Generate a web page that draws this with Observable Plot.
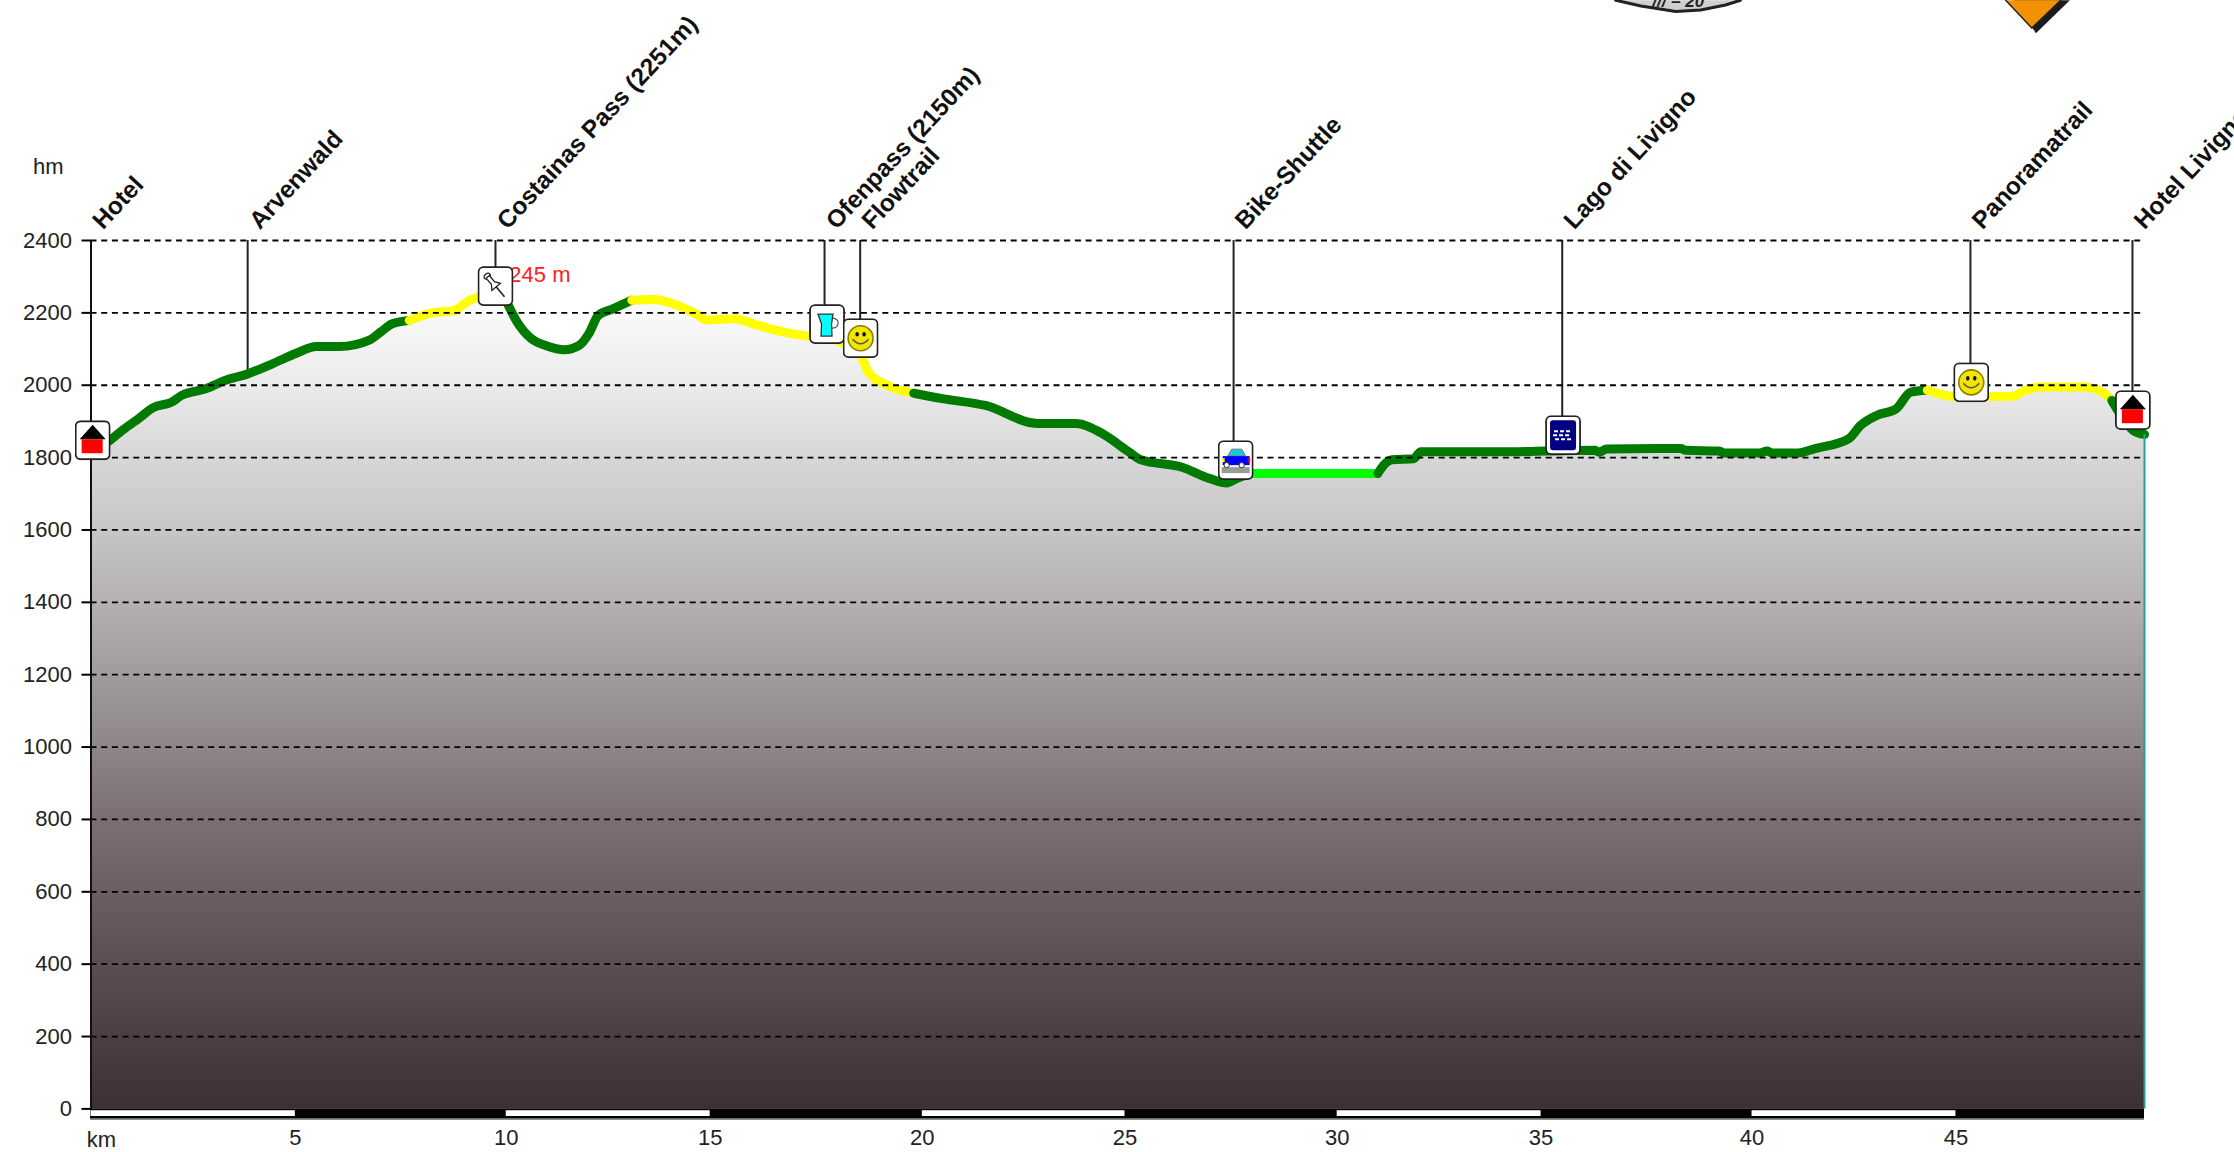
<!DOCTYPE html>
<html><head><meta charset="utf-8">
<script src="https://cdn.jsdelivr.net/npm/d3@7"></script>
<script src="https://cdn.jsdelivr.net/npm/@observablehq/plot@0.6"></script>
<style>
html,body{margin:0;padding:0;background:#fff;overflow:hidden}
svg{display:block}
</style></head><body><div id="chart"></div>
<script>
const profileKm = [0,.46,.75,1.15,1.5,1.96,2.19,2.77,3.23,3.75,4.39,4.97,5.43,6,6.7,6.99,7.27,7.68,8.2,8.78,9.06,9.35,9.76,10.07,10.28,10.62,10.97,11.43,11.78,12.01,12.24,12.59,13.05,13.58,14.07,14.55,14.87,15.51,16.08,16.72,17.36,17.69,18.17,18.61,18.75,19.21,19.85,20.54,21.58,22.85,23.77,24.41,25.04,25.33,26.31,27,27.41,27.64,27.99,31.05,31.1,31.39,31.91,32.09,34.03,35.13,36.29,36.4,36.57,38.36,38.48,39.29,39.4,40.27,40.44,40.56,41.19,41.6,42.41,42.7,43.1,43.56,43.91,44.31,44.95,46.33,46.68,47.03,48.06,48.53,48.76,48.93,49.28,49.55];
const profileElev = [1820,1848,1875,1908,1938,1954,1972,1990,2013,2030,2060,2089,2107,2107,2124,2147,2170,2179,2199,2207,2230,2244,2251,2221,2175,2129,2110,2098,2110,2142,2193,2211,2235,2237,2224,2200,2180,2184,2166,2147,2135,2132,2115,2074,2037,2000,1978,1963,1944,1894,1894,1866,1816,1794,1774,1742,1730,1742,1756,1756,1765,1794,1797,1816,1816,1818,1820,1815,1824,1825,1820,1818,1813,1813,1818,1813,1813,1825,1852,1889,1917,1935,1981,1986,1969,1969,1986,1995,1995,1981,1958,1926,1875,1864];
const segmentStops = [0,7.68,10.07,13.05,19.85,27.99,31.05,44.31,48.76,49.55];
const segmentColors = ["#007a00","#ffff00","#007a00","#ffff00","#007a00","#00ff00","#007a00","#ffff00","#007a00"];

const waypointNames = ["Hotel","Arvenwald","Costainas Pass (2251m)","Ofenpass (2150m)","Flowtrail","Bike-Shuttle","Lago di Livigno","Panoramatrail","Hotel Livigno"];
const waypointKm = [0,3.78,9.76,17.7,18.56,27.57,35.5,45.35,49.26];
const waypointFoot = [1848,2040,2274,2169,2130,1793,1862,2008,1931];

const iconNames = ["hotel","pin","beer","smile","car","water","smile","hotel"];
const iconKm = [.04,9.76,17.76,18.57,27.62,35.52,45.37,49.27];
const iconElev = [1848,2274,2169,2130,1793,1862,2008,1931];

const elevTicks = [0,200,400,600,800,1000,1200,1400,1600,1800,2000,2200,2400];
const kmTicks = [4.93,10.02,14.94,20.06,24.95,30.07,34.99,40.08,45];
const kmTickLabels = ["5","10","15","20","25","30","35","40","45"];
const scaleWhite = [[0,4.93],[10.02,14.94],[20.06,24.95],[30.07,34.99],[40.08,45]];
const totalKm = 49.55;

const gradElev = [2400,2200,2000,1800,1600,1200,800,400,0];
const gradColor = ["#ffffff","#f9f9f9","#ebebeb","#d8d7d7","#c7c5c5","#a19c9c","#7b6f71","#5a4e50","#3d3034"];

const badgeKm = [36.79,37.4,38.24,38.84,39.44,39.8];
const badgeElev = [3064,3048,3033,3037,3051,3064];
const signKm = [46.2,46.83,47.53];
const signElev = [3064,2987,3064];
const signShadowKm = [46.4,46.93,47.75];
const signShadowElev = [3064,2973,3064];

const frame = inner => "data:image/svg+xml," + encodeURIComponent(
 `<svg xmlns="http://www.w3.org/2000/svg" width="36" height="40" viewBox="0 0 36 40"><rect x="1" y="1" width="34" height="38" rx="5" fill="#fff" stroke="#222" stroke-width="1.8"/>${inner}</svg>`);
const iconArt = {
 hotel: frame(`<path d="M5 19 L18 4.5 L31 19Z" fill="#000"/><rect x="7" y="19" width="21" height="14" fill="#f00"/>`),
 pin: frame(`<g transform="rotate(-40 18 20)" fill="#fff" stroke="#222" stroke-width="1.3"><ellipse cx="18" cy="7" rx="3.4" ry="2.4"/><path d="M15.8 8 L16 16 L12.5 21 H23.5 L20 16 L20.2 8Z"/><path d="M18 21 V34" stroke-width="1.6"/></g>`),
 beer: frame(`<path d="M24 14 q6 1 5 6 q-1 4 -6 4" fill="none" stroke="#555" stroke-width="1.2"/><path d="M9 10 H24 L22.5 20 L23 32 H12 L12.5 20Z" fill="#00ffff" stroke="#333" stroke-width="1.3"/>`),
 smile: frame(`<circle cx="18" cy="20" r="12.5" fill="#f2e600" stroke="#8a8000" stroke-width="1.6"/><ellipse cx="14.5" cy="16" rx="1.7" ry="2.3" fill="#111"/><ellipse cx="21.5" cy="16" rx="1.7" ry="2.3" fill="#111"/><path d="M10 21 q8 9 16 0" fill="none" stroke="#555" stroke-width="1.5"/>`),
 car: frame(`<rect x="4" y="27" width="28" height="6" fill="#9a9a9a"/><path d="M10 16 L14 9 H24 L28 16Z" fill="#18c8d8" stroke="#777"/><rect x="5" y="16" width="27" height="9" fill="#0000ff"/><rect x="4" y="18" width="3" height="4" fill="#ff0"/><rect x="30" y="18" width="2.5" height="4" fill="#f00"/><circle cx="9" cy="25" r="2.6" fill="#fff" stroke="#333"/><circle cx="24" cy="25" r="2.6" fill="#fff" stroke="#333"/>`),
 water: frame(`<rect x="5" y="5" width="26" height="30" rx="3" fill="#000080"/><g stroke="#fff" stroke-width="2" stroke-dasharray="4 2" fill="none"><path d="M9 16 H27"/><path d="M8 20 H26"/><path d="M10 24 H27"/></g>`)
};

const profile = profileKm.map((km,i)=>({km,elev:profileElev[i]}));
const waypoints = waypointNames.map((name,i)=>({name,km:waypointKm[i],foot:waypointFoot[i]}));
const icons = iconNames.map((n,i)=>({src:iconArt[n],km:iconKm[i],elev:iconElev[i]}));
const badge = badgeKm.map((km,i)=>({km,elev:badgeElev[i]}));
const sign = signKm.map((km,i)=>({km,elev:signElev[i]}));
const signShadow = signShadowKm.map((km,i)=>({km,elev:signShadowElev[i]}));
const segments = segmentColors.map((c,i)=>({c,rows:profile.filter(d=>d.km>=segmentStops[i]&&d.km<=segmentStops[i+1])}));

const gradientDefs = (index,{y})=>{
  const defs=d3.create("svg:defs");
  const g=defs.append("linearGradient").attr("id","elevFill").attr("gradientUnits","userSpaceOnUse")
    .attr("x1",0).attr("x2",0).attr("y1",y(2400)).attr("y2",y(0));
  gradElev.forEach((e,i)=>g.append("stop").attr("offset",1-e/2400).attr("stop-color",gradColor[i]));
  return defs.node();
};

const chart = Plot.plot({
  width:2234,height:1152,
  marginLeft:90.5,marginRight:90,marginTop:240,marginBottom:43.6,
  style:{fontFamily:"'Liberation Sans',Arial,sans-serif",background:"#fff",overflow:"hidden"},
  x:{domain:[0,totalKm]},
  y:{domain:[0,2400]},
  marks:[
    gradientDefs,
    Plot.line(signShadow,{x:"km",y:"elev",fill:"#1c1c1c"}),
    Plot.line(sign,{x:"km",y:"elev",fill:"#f39200",stroke:"#222",strokeWidth:1.5}),
    Plot.line(badge,{x:"km",y:"elev",fill:"#cfcfcf",stroke:"#222",strokeWidth:3}),
    Plot.text(["/// – 20"],{x:38.3,y:3060,fontSize:17,fontStyle:"italic",fontWeight:700,fill:"#222"}),
    Plot.areaY(profile,{x:"km",y:"elev",fill:"url(#elevFill)",curve:"monotone-x"}),
    Plot.ruleX(waypoints.slice(1),{x:"km",y1:"foot",y2:2400,stroke:"#222",strokeWidth:2}),
    ...segments.map(s=>Plot.line(s.rows,{x:"km",y:"elev",stroke:s.c,strokeWidth:9,strokeLinejoin:"round",curve:"monotone-x"})),
    Plot.ruleY(elevTicks.slice(1),{x1:0,x2:totalKm,stroke:"#000",strokeWidth:1.8,strokeDasharray:"6 4.7"}),
    Plot.ruleX([totalKm],{y1:0,y2:1864,stroke:"#2b9c9c",strokeWidth:2}),
    Plot.ruleX([0],{y1:-28,y2:2400,stroke:"#111",strokeWidth:2}),
    Plot.rect([0],{x1:0,x2:totalKm,y1:-28,y2:0,fill:"#000"}),
    Plot.ruleY([-28],{x1:0,x2:totalKm,stroke:"#666",strokeWidth:1.5}),
    Plot.rect(scaleWhite,{x1:d=>d[0],x2:d=>d[1],y1:-21,y2:-5,fill:"#fff"}),
    Plot.axisY({ticks:elevTicks,tickSize:9,tickPadding:10,fontSize:22,label:null,strokeWidth:2,stroke:"#000",tickFormat:d=>String(d),fill:"#222"}),
    Plot.axisX({ticks:kmTicks,tickSize:0,tickPadding:20,fontSize:22,label:null,fill:"#222",tickFormat:(d,i)=>kmTickLabels[i]}),
    Plot.text(["km"],{x:.25,y:-85,fontSize:22,fill:"#222"}),
    Plot.text(["hm"],{x:-1.03,y:2603,fontSize:22,fill:"#222"}),
    Plot.text(["2245 m"],{x:11.57,y:2304,textAnchor:"end",fontSize:22,fill:"#ff2020"}),
    Plot.text(waypoints,{x:"km",y:2400,text:"name",rotate:-47,textAnchor:"start",lineAnchor:"bottom",dx:12,dy:-10,fontSize:24.5,fontWeight:700,fill:"#111"}),
    Plot.image(icons,{x:"km",y:"elev",src:d=>d.src,width:36,height:40})
  ]
});
document.getElementById("chart").append(chart);
</script></body></html>
